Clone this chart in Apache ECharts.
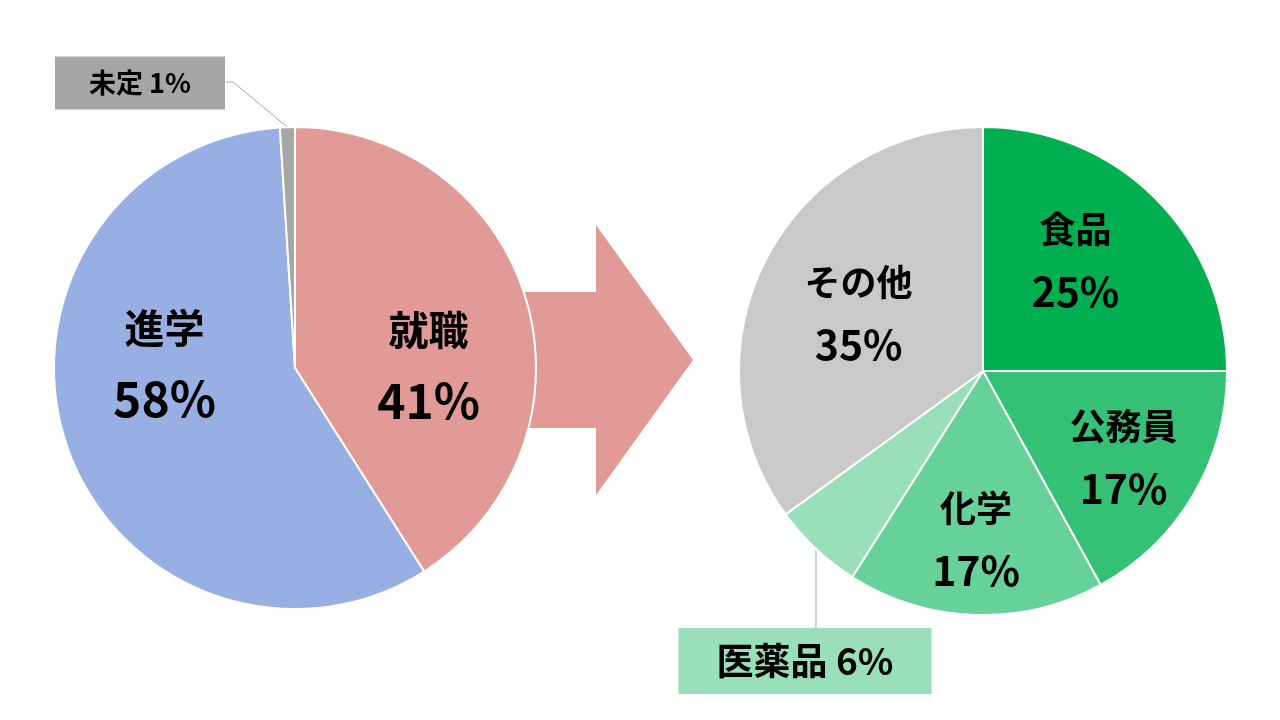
<!DOCTYPE html>
<html>
<head>
<meta charset="utf-8">
<script src="https://cdn.jsdelivr.net/npm/echarts@6/dist/echarts.min.js"></script>
<style>
  html, body { margin: 0; padding: 0; background: #fff; }
  #chart { width: 1280px; height: 720px; }
</style>
</head>
<body>
<div id="chart"></div>
<script>
// 進路の内訳（左）と就職先の内訳（右）
const mainNames = ['就職', '進学', '未定']
const mainValues = [41, 58, 1]
const mainColors = ['#E29A96', '#98AFE3', '#A6A6A6']

const jobNames = ['食品', '公務員', '化学', '医薬品', 'その他']
const jobValues = [25, 17, 17, 6, 35]
const jobColors = ['#00B050', '#34C175', '#67D19A', '#99E0BA', '#C9C9C9']

// ラベルの微調整（Excel のラベル位置に寄せる）
const mainOffsets = [[15, 32], [-13, -43], [0, 0]]
const jobOffsets = [[4, -22], [33, 23], [-3, 43], [0, 0], [-13, -1]]
const FONT = '"Noto Sans CJK JP", "Noto Sans", sans-serif'

const chart = echarts.init(document.getElementById('chart'))

function insideLabel(offset, nameSize, pctSize, gap) {
  return {
    show: true,
    position: 'inside',
    offset: offset,
    formatter: '{n|{b}}\n{p|{c}%}',
    rich: {
      n: { fontSize: nameSize, fontWeight: 'bold', color: '#000', fontFamily: FONT, lineHeight: gap },
      p: { fontSize: pctSize, fontWeight: 'bold', color: '#000', fontFamily: FONT, lineHeight: gap }
    }
  }
}

function outsideLabel(bg, fontSize, w, h) {
  return {
    show: true,
    position: 'outside',
    formatter: '{b} {c}%',
    backgroundColor: bg,
    color: '#000',
    fontSize: fontSize,
    fontWeight: 'bold',
    fontFamily: FONT,
    width: w,
    height: h,
    lineHeight: h,
    align: 'center',
    padding: 0
  }
}

const mainData = mainNames.map((name, i) => ({
  name,
  value: mainValues[i],
  itemStyle: { color: mainColors[i] },
  label: name === '未定'
    ? outsideLabel('#A6A6A6', 27, 170, 53)
    : insideLabel(mainOffsets[i], 40, 48, 71)
}))

const jobData = jobNames.map((name, i) => ({
  name,
  value: jobValues[i],
  itemStyle: { color: jobColors[i] },
  label: name === '医薬品'
    ? outsideLabel('#99E0BA', 37, 253, 66)
    : insideLabel(jobOffsets[i], 36, 41, 62)
}))

const option = {
  backgroundColor: '#fff',
  animation: false,
  graphic: [
    {
      type: 'polygon',
      z: 0,
      shape: {
        points: [[470, 292], [596, 292], [596, 225], [693, 360], [596, 495], [596, 428], [470, 428]]
      },
      style: { fill: '#E29A96' }
    }
  ],
  series: [
    {
      type: 'pie',
      z: 2,
      center: [295, 368],
      radius: 241,
      startAngle: 90,
      clockwise: true,
      itemStyle: { borderColor: '#fff', borderWidth: 2 },
      labelLine: { show: true, lineStyle: { color: '#A6A6A6', width: 1 } },
      labelLayout: (p) => {
        if (p.dataIndex !== 2) return {}
        const edge = p.labelLinePoints ? p.labelLinePoints[0] : [290, 127]
        return {
          x: 140, y: 83, align: 'center', verticalAlign: 'middle',
          labelLinePoints: [edge, [233, 82], [226, 82]]
        }
      },
      data: mainData
    },
    {
      type: 'pie',
      z: 2,
      center: [983, 371],
      radius: 244,
      startAngle: 90,
      clockwise: true,
      itemStyle: { borderColor: '#fff', borderWidth: 2 },
      labelLine: { show: true, lineStyle: { color: '#A6A6A6', width: 1 } },
      labelLayout: (p) => {
        if (p.dataIndex !== 3) return {}
        const edge = p.labelLinePoints ? p.labelLinePoints[0] : [815, 549]
        return {
          x: 805, y: 661, align: 'center', verticalAlign: 'middle',
          labelLinePoints: [edge, [edge[0], 628], [edge[0], 628]]
        }
      },
      data: jobData
    }
  ]
}

chart.setOption(option)
</script>
</body>
</html>
